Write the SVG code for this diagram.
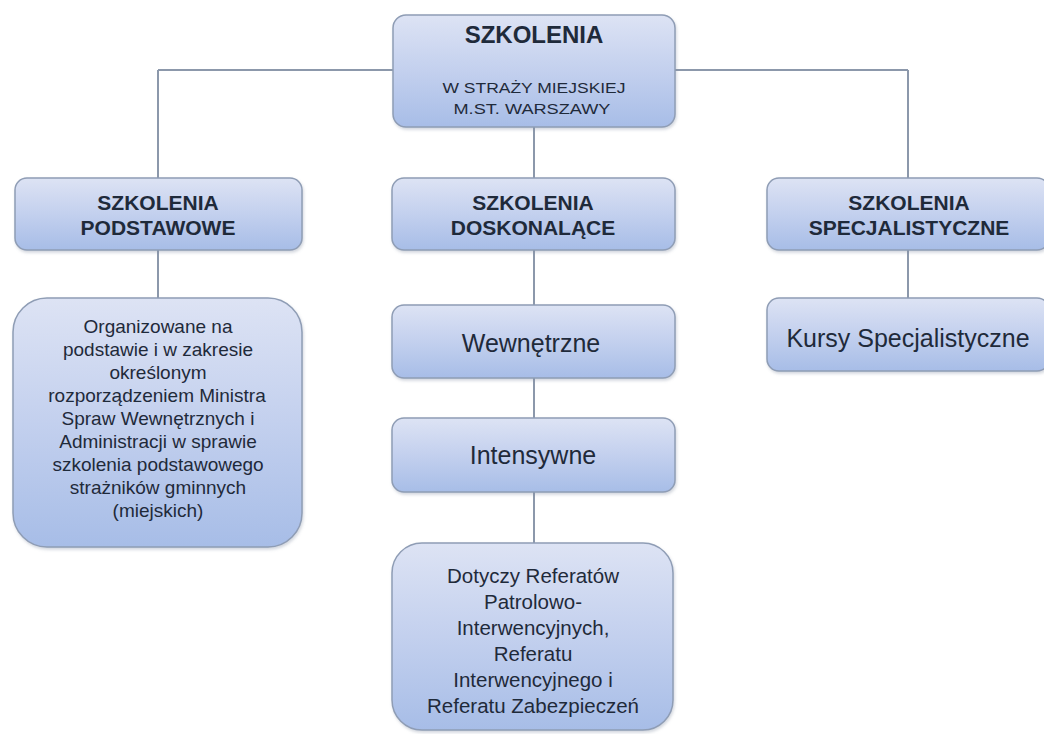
<svg xmlns="http://www.w3.org/2000/svg" width="1044" height="734" viewBox="0 0 1044 734">
<defs>
<linearGradient id="g" x1="0" y1="0" x2="0" y2="1">
<stop offset="0" stop-color="#dde3f4"/>
<stop offset="0.5" stop-color="#c3d0ee"/>
<stop offset="1" stop-color="#a7bde7"/>
</linearGradient>
<filter id="sh" x="-10%" y="-10%" width="120%" height="130%">
<feDropShadow dx="1" dy="2" stdDeviation="1.5" flood-color="#7f8aa0" flood-opacity="0.35"/>
</filter>
</defs>
<style>
.box{fill:url(#g);stroke:#8f9db5;stroke-width:1.5;filter:url(#sh)}
.ln{stroke:#8c98ab;stroke-width:2;fill:none}
text{font-family:"Liberation Sans",Arial,sans-serif;fill:#1f2a3a;text-anchor:middle}
.b{font-weight:bold}
</style>
<rect width="1044" height="734" fill="#ffffff"/>
<g id="connectors">
<path class="ln" d="M158 70 H908 M158 70 V178 M908 70 V178 M534 127 V178 M158 250 V298 M908 250 V298 M534 250 V305 M534 378 V418 M534 492 V543"/>
</g>
<g id="n-root">
<rect class="box" x="393" y="15" width="282" height="112" rx="13"/>
<text class="b" x="534" y="43" font-size="24">SZKOLENIA</text>
<text x="534" y="92.5" font-size="15" textLength="183" lengthAdjust="spacingAndGlyphs">W STRAŻY  MIEJSKIEJ</text>
<text x="532" y="113.5" font-size="15" textLength="157" lengthAdjust="spacingAndGlyphs">M.ST.  WARSZAWY</text>
</g>
<g id="n-podstawowe">
<rect class="box" x="15" y="178" width="287" height="72" rx="12"/>
<text class="b" x="158" y="209.5" font-size="21">SZKOLENIA</text>
<text class="b" x="158" y="234.5" font-size="21">PODSTAWOWE</text>
</g>
<g id="n-doskonalace">
<rect class="box" x="392" y="178" width="283" height="72" rx="12"/>
<text class="b" x="533" y="209.5" font-size="21">SZKOLENIA</text>
<text class="b" x="533" y="234.5" font-size="21">DOSKONALĄCE</text>
</g>
<g id="n-specjalistyczne">
<rect class="box" x="767" y="178" width="282" height="72" rx="12"/>
<text class="b" x="909" y="209.5" font-size="21">SZKOLENIA</text>
<text class="b" x="909" y="234.5" font-size="21">SPECJALISTYCZNE</text>
</g>
<g id="n-organizowane">
<rect class="box" x="13" y="298" width="289" height="249" rx="34"/>
<text x="158" y="333" font-size="19">Organizowane na</text>
<text x="158" y="356" font-size="19">podstawie i w zakresie</text>
<text x="158" y="379" font-size="19">określonym</text>
<text x="157" y="402" font-size="19">rozporządzeniem Ministra</text>
<text x="158" y="425" font-size="19">Spraw Wewnętrznych i</text>
<text x="158" y="448" font-size="19">Administracji w sprawie</text>
<text x="158" y="471" font-size="19">szkolenia podstawowego</text>
<text x="158" y="494" font-size="19">strażników gminnych</text>
<text x="158" y="517" font-size="19">(miejskich)</text>
</g>
<g id="n-wewnetrzne">
<rect class="box" x="392" y="305" width="283" height="73" rx="12"/>
<text x="531" y="352" font-size="25">Wewnętrzne</text>
</g>
<g id="n-intensywne">
<rect class="box" x="392" y="418" width="283" height="74" rx="12"/>
<text x="533" y="464" font-size="25">Intensywne</text>
</g>
<g id="n-dotyczy">
<rect class="box" x="392" y="543" width="281" height="187" rx="30"/>
<text x="533" y="583" font-size="20.5">Dotyczy Referatów</text>
<text x="533" y="609" font-size="20.5">Patrolowo-</text>
<text x="533" y="635" font-size="20.5">Interwencyjnych,</text>
<text x="533" y="661" font-size="20.5">Referatu</text>
<text x="533" y="687" font-size="20.5">Interwencyjnego  i</text>
<text x="533" y="713" font-size="20.5">Referatu Zabezpieczeń</text>
</g>
<g id="n-kursy">
<rect class="box" x="767" y="298" width="282" height="73" rx="12"/>
<text x="908" y="347" font-size="25">Kursy Specjalistyczne</text>
</g>
</svg>
